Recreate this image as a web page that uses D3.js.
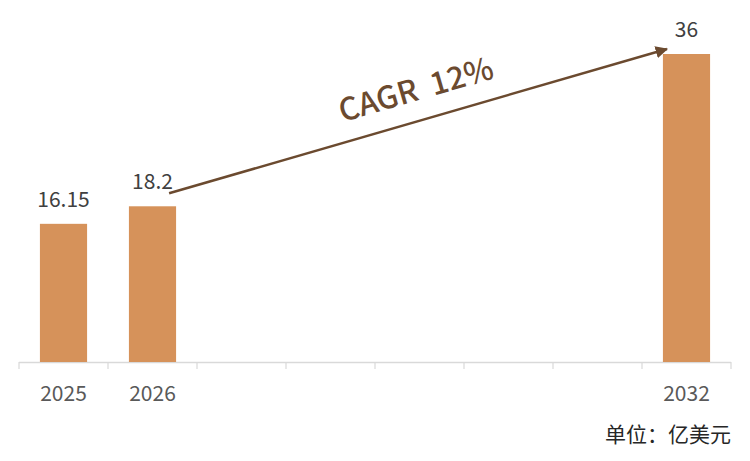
<!DOCTYPE html>
<html>
<head>
<meta charset="utf-8">
<script src="https://cdn.jsdelivr.net/npm/d3@7"></script>
<style>
  body { margin: 0; background: #fff; }
  text { font-family: "Noto Sans CJK SC", "Noto Sans", sans-serif; }
</style>
</head>
<body>
<svg id="chart" width="750" height="461"></svg>
<script>
// years on the axis (only some carry a bar)
const years = ["2025", "2026", "2027", "2028", "2029", "2030", "2031", "2032"];
const barYears = ["2025", "2026", "2032"];
const barValues = [16.15, 18.2, 36];
const barLabels = ["16.15", "18.2", "36"];
const tickLabels = ["2025", "2026", "", "", "", "", "", "2032"];
const cagrText = "CAGR  12%";
const unitText = "单位：亿美元";

const svg = d3.select("#chart");
const barColor = "#D6925A";
const brown = "#6B4A2F";

const x = d3.scaleBand().domain(years).range([19, 731]).paddingInner(0.47).paddingOuter(0.235);
const y = d3.scaleLinear().domain([0, 36]).range([362, 54]);

// axis line + ticks at band boundaries
const axisY = y(0);
svg.append("line")
    .attr("x1", 19).attr("x2", 731)
    .attr("y1", axisY + 0.5).attr("y2", axisY + 0.5)
    .attr("stroke", "#d9d9d9").attr("stroke-width", 1.5);

const step = x.step();
const bounds = d3.range(years.length + 1).map(i => 19 + i * step);
svg.selectAll("line.tick").data(bounds).enter().append("line")
    .attr("class", "tick")
    .attr("x1", d => d).attr("x2", d => d)
    .attr("y1", axisY).attr("y2", axisY + 7)
    .attr("stroke", "#d9d9d9").attr("stroke-width", 1.2);

svg.selectAll("text.tick").data(years).enter().append("text")
    .attr("class", "tick")
    .attr("x", (d, i) => x(d) + x.bandwidth() / 2)
    .attr("y", 401)
    .attr("text-anchor", "middle")
    .attr("font-size", 21)
    .attr("fill", "#595959")
    .text((d, i) => tickLabels[i]);

// bars
const bars = barYears.map((d, i) => ({ year: d, value: barValues[i], label: barLabels[i] }));
svg.selectAll("rect.bar").data(bars).enter().append("rect")
    .attr("class", "bar")
    .attr("x", d => x(d.year))
    .attr("width", x.bandwidth())
    .attr("y", d => y(d.value))
    .attr("height", d => y(0) - y(d.value))
    .attr("fill", barColor);

svg.selectAll("text.val").data(bars).enter().append("text")
    .attr("class", "val")
    .attr("x", d => x(d.year) + x.bandwidth() / 2)
    .attr("y", d => y(d.value) - 17)
    .attr("text-anchor", "middle")
    .attr("font-size", 21)
    .attr("fill", "#404040")
    .text(d => d.label);

// CAGR arrow from 2026 bar to 2032 bar
svg.append("defs").append("marker")
    .attr("id", "arrow")
    .attr("viewBox", "0 0 10 10")
    .attr("refX", 9).attr("refY", 5)
    .attr("markerWidth", 5).attr("markerHeight", 5)
    .attr("markerUnits", "strokeWidth")
    .attr("orient", "auto")
    .append("path").attr("d", "M0,0 L10,5 L0,10 z").attr("fill", brown);

const x1 = x("2026") + x.bandwidth() - 7, y1 = y(18.2) - 13;
const x2 = x("2032") + 4, y2 = y(36) - 5;
svg.append("line")
    .attr("x1", x1).attr("y1", y1).attr("x2", x2).attr("y2", y2)
    .attr("stroke", brown).attr("stroke-width", 2.5)
    .attr("marker-end", "url(#arrow)");

const angle = Math.atan2(y2 - y1, x2 - x1) * 180 / Math.PI;
svg.append("text")
    .attr("transform", `translate(419,100) rotate(${angle})`)
    .attr("text-anchor", "middle")
    .attr("font-size", 31)
    .attr("font-weight", 500)
    .attr("fill", brown)
    .style("white-space", "pre")
    .text(cagrText);

svg.append("text")
    .attr("x", 731).attr("y", 442)
    .attr("text-anchor", "end")
    .attr("font-size", 21)
    .attr("fill", "#262626")
    .text(unitText);
</script>
</body>
</html>
